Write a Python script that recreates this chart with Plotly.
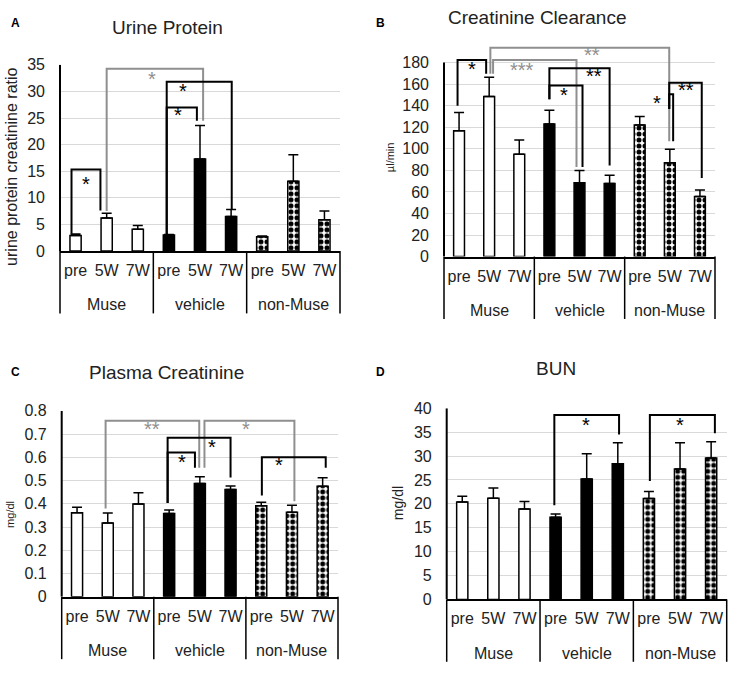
import plotly.graph_objects as go

W, H = 731, 674

# ---------------- data ----------------
groups = ["Muse", "vehicle", "non-Muse"]
times = ["pre", "5W", "7W"]

urine_mean = [2.9, 6.2, 4.1, 3.0, 17.3, 6.5, 2.7, 13.1, 5.9]
urine_err = [0.3, 0.9, 0.7, 0.1, 6.3, 1.3, 0.1, 5.0, 1.6]
urine_ticks = [0, 5, 10, 15, 20, 25, 30, 35]

ccr_mean = [116.7, 148.6, 95.0, 123.0, 68.4, 67.8, 122.0, 87.1, 55.8]
ccr_err = [16.9, 17.8, 13.2, 12.7, 11.5, 7.6, 8.0, 12.4, 6.0]
ccr_ticks = [0, 20, 40, 60, 80, 100, 120, 140, 160, 180]

pcr_mean = [0.362, 0.317, 0.399, 0.358, 0.487, 0.462, 0.392, 0.364, 0.476]
pcr_err = [0.023, 0.043, 0.049, 0.015, 0.030, 0.015, 0.015, 0.030, 0.036]
pcr_ticks = [0, 0.1, 0.2, 0.3, 0.4, 0.5, 0.6, 0.7, 0.8]

bun_mean = [20.4, 21.2, 18.9, 17.2, 25.2, 28.4, 21.1, 27.3, 29.6]
bun_err = [1.2, 2.1, 1.6, 0.7, 5.3, 4.4, 1.5, 5.5, 3.4]
bun_ticks = [0, 5, 10, 15, 20, 25, 30, 35, 40]

# significance brackets: (x_left, y_left_end, x_right, y_right_end, y_top, colour, label, label_x, label_y)
urine_sig = [
    (-0.13, 3.25, 0.80, 7.6, 15.3, "k", "*", 0.35, 12.5),
    (1.00, 7.5, 4.10, 24.5, 34.25, "g", "*", 2.45, 32.2),
    (2.93, 3.0, 5.02, 7.9, 31.8, "k", "*", 3.45, 29.9),
    (2.93, 3.0, 3.90, 24.5, 27.0, "k", "*", 3.30, 25.4),
]
ccr_sig = [
    (-0.05, 140, 0.90, 169.7, 182.3, "k", "*", 0.42, 173.3),
    (1.04, 169.7, 6.98, 107, 193.8, "g", "**", 4.40, 186.0),
    (1.13, 169.7, 3.90, 83, 182.3, "g", "***", 2.08, 172.0),
    (3.00, 146, 5.00, 84.4, 174.8, "k", "**", 4.48, 166.6),
    (3.00, 146, 4.10, 83, 158.8, "k", "*", 3.49, 149.0),
    (6.98, 137, 8.06, 73, 161.2, "k", "**", 7.54, 153.7),
    (6.98, 137, 7.11, 107, 150.7, "k", "*", 6.57, 141.7),
]
pcr_sig = [
    (0.93, 0.38, 3.98, 0.555, 0.758, "g", "**", 2.43, 0.716),
    (4.15, 0.555, 7.08, 0.411, 0.758, "g", "*", 5.50, 0.716),
    (2.95, 0.404, 5.00, 0.513, 0.684, "k", "*", 4.40, 0.639),
    (2.95, 0.404, 3.84, 0.555, 0.621, "k", "*", 3.43, 0.576),
    (6.02, 0.436, 8.10, 0.555, 0.600, "k", "*", 6.58, 0.562),
]
bun_sig = [
    (2.96, 19.7, 5.04, 34.5, 38.6, "k", "*", 3.97, 36.4),
    (6.03, 24.8, 8.12, 34.8, 38.6, "k", "*", 7.00, 36.4),
]

# ---------------- styling / layout ----------------
FONT = "Liberation Sans, Arial, sans-serif"
TXT = "#222222"
GRAY = "#8f8f8f"
COL = {"k": "black", "g": GRAY}

panels = [
    dict(letter="A", title="Urine Protein", ytitle="urine protein creatinine ratio",
         mean=urine_mean, err=urine_err, ticks=urine_ticks, sig=urine_sig,
         px=(60, 340), py=(58.3, 249.3), ytop=35,
         title_xy=(167.5, 20), letter_xy=(15, 15), ytitle_xy=(12, 163), ytitle_size=16),
    dict(letter="B", title="Creatinine Clearance", ytitle="µl/min",
         mean=ccr_mean, err=ccr_err, ticks=ccr_ticks, sig=ccr_sig,
         px=(444, 715), py=(33.9, 255), ytop=200,
         title_xy=(537.5, 10), letter_xy=(380, 15), ytitle_xy=(390, 153), ytitle_size=11),
    dict(letter="C", title="Plasma Creatinine", ytitle="mg/dl",
         mean=pcr_mean, err=pcr_err, ticks=pcr_ticks, sig=pcr_sig,
         px=(61.7, 338), py=(413.3, 604), ytop=0.8,
         title_xy=(166, 374), letter_xy=(15, 373), ytitle_xy=(10, 520), ytitle_size=11),
    dict(letter="D", title="BUN", ytitle="mg/dl",
         mean=bun_mean, err=bun_err, ticks=bun_ticks, sig=bun_sig,
         px=(446.7, 726.7), py=(410.7, 606.7), ytop=40,
         title_xy=(556, 370), letter_xy=(380, 373), ytitle_xy=(398, 508), ytitle_size=14),
]

bar_styles = [
    dict(marker=dict(color="white", line=dict(color="black", width=1.5))),
    dict(marker=dict(color="black", line=dict(color="black", width=1.5))),
    dict(marker=dict(color="white", line=dict(color="black", width=1.5),
                     pattern=dict(shape=".", fgcolor="black", bgcolor="white",
                                  size=6, solidity=0.55, fillmode="replace"))),
]

categories = [f"{g} {t}" for g in groups for t in times]
inner_labels = [t for g in groups for t in times]

GROUP_LABEL_GAP = 55   # px from the x-axis line to the centre of the group labels
DIV_LEN = 64           # px length of the table dividers below the axis

fig = go.Figure()
shapes = []
annotations = []
layout_axes = {}

for n, p in enumerate(panels, start=1):
    xs = "" if n == 1 else str(n)
    xref, yref = "x" + xs, "y" + xs
    for g, grp in enumerate(groups):
        sl = slice(3 * g, 3 * g + 3)
        fig.add_trace(go.Bar(
            x=categories[sl],
            y=p["mean"][sl],
            width=0.36,
            error_y=dict(type="data", array=p["err"][sl], arrayminus=[0, 0, 0],
                         symmetric=False, color="black", thickness=1.5, width=5),
            xaxis=xref, yaxis=yref, showlegend=False, hoverinfo="skip",
            **bar_styles[g],
        ))
    x0, x1 = p["px"]
    yt, yb = p["py"]
    plot_h = yb - yt
    layout_axes["xaxis" + xs] = dict(
        type="category", domain=[x0 / W, x1 / W], anchor=yref,
        categoryorder="array", categoryarray=categories,
        tickmode="array", tickvals=categories, ticktext=inner_labels,
        showline=True, linecolor="black", linewidth=1.5,
        ticks="", showgrid=False, zeroline=False, tickangle=0,
        ticklabelstandoff=4,
        tickfont=dict(family=FONT, size=16, color=TXT),
        range=[-0.5, 8.5],
    )
    layout_axes["yaxis" + xs] = dict(
        domain=[1 - yb / H, 1 - yt / H], anchor=xref,
        range=[0, p["ytop"]], tickvals=p["ticks"],
        showgrid=True, gridcolor="#d9d9d9", gridwidth=1,
        showline=False, zeroline=False, ticks="",
        ticklabelstandoff=14,
        tickfont=dict(family=FONT, size=16, color=TXT),
    )
    # y-axis line from 0 to the top tick
    shapes.append(dict(type="line", xref=xref + " domain", yref=yref,
                       x0=0, x1=0, y0=0, y1=p["ticks"][-1],
                       line=dict(color="black", width=2)))
    # table dividers between groups
    for k in range(len(groups) + 1):
        shapes.append(dict(type="line", xref=xref + " domain", yref=yref + " domain",
                           x0=k / len(groups), x1=k / len(groups),
                           y0=0, y1=-DIV_LEN / plot_h,
                           line=dict(color="black", width=1.5)))
    # group names (second row of the category table)
    for g, grp in enumerate(groups):
        annotations.append(dict(x=categories[3 * g + 1], xref=xref,
                                y=1 - (yb + GROUP_LABEL_GAP) / H, yref="paper",
                                text=grp, showarrow=False,
                                xanchor="center", yanchor="middle",
                                font=dict(family=FONT, size=16, color=TXT)))
    # significance brackets
    for (xl, yl, xr, yr, top, c, lab, lx, ly) in p["sig"]:
        shapes.append(dict(type="path", xref=xref, yref=yref,
                           path=f"M{xl},{yl} L{xl},{top} L{xr},{top} L{xr},{yr}",
                           line=dict(color=COL[c], width=2)))
        annotations.append(dict(x=lx, y=ly, xref=xref, yref=yref, text=lab,
                                showarrow=False, yshift=1,
                                font=dict(family=FONT, size=20, color=COL[c])))
    # titles, letters, axis titles
    tx, ty = p["title_xy"]
    annotations.append(dict(x=tx / W, y=1 - ty / H, xref="paper", yref="paper",
                            text=p["title"], showarrow=False,
                            xanchor="center", yanchor="middle",
                            font=dict(family=FONT, size=19, color=TXT)))
    lx_, ly_ = p["letter_xy"]
    annotations.append(dict(x=lx_ / W, y=1 - ly_ / H, xref="paper", yref="paper",
                            text="<b>" + p["letter"] + "</b>", showarrow=False,
                            xanchor="center", yanchor="middle",
                            font=dict(family=FONT, size=12, color="black")))
    ax_, ay_ = p["ytitle_xy"]
    annotations.append(dict(x=ax_ / W, y=1 - ay_ / H, xref="paper", yref="paper",
                            text=p["ytitle"], showarrow=False, textangle=-90,
                            xanchor="center", yanchor="middle",
                            font=dict(family=FONT, size=p["ytitle_size"], color=TXT)))

fig.update_layout(
    width=W, height=H, autosize=False,
    margin=dict(l=0, r=0, t=0, b=0),
    paper_bgcolor="white", plot_bgcolor="white",
    barmode="overlay",
    shapes=shapes, annotations=annotations,
    font=dict(family=FONT, color=TXT),
    **layout_axes,
)

fig.write_html("out.html", config={"displayModeBar": False},
               post_script="document.body.style.margin='0';")
